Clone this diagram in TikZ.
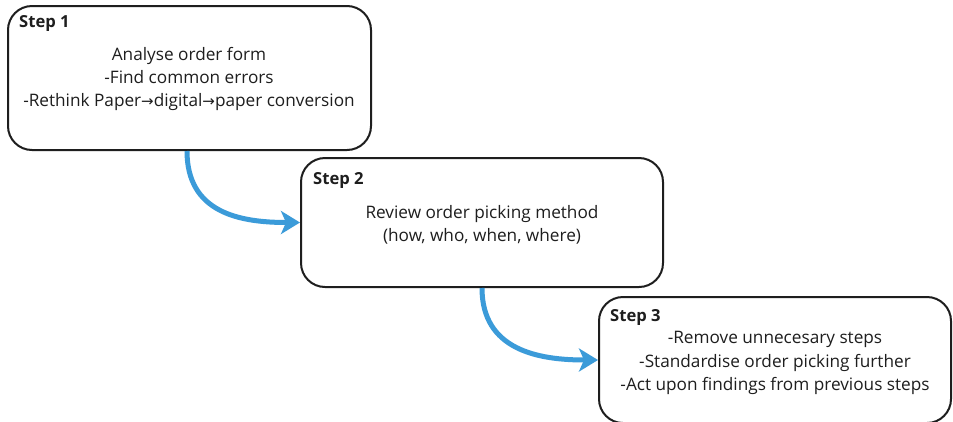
\documentclass[tikz,border=0pt]{standalone}
\usepackage{fontspec}
\setmainfont{Open Sans}
\newfontfamily\arrowfont{DejaVu Sans}
\usetikzlibrary{arrows.meta,calc}
\definecolor{flowblue}{HTML}{3B9BD9}
\definecolor{ink}{HTML}{1E1E1E}
\newcommand{\rarr}{{\arrowfont\fontsize{15}{15}\selectfont →}}
\tikzset{
  stepbox/.style={draw=ink, line width=2pt, rounded corners=24pt, fill=white, inner sep=0pt},
  steptitle/.style={anchor=west, inner sep=0pt, font=\fontsize{16.6}{18}\selectfont\bfseries, text=ink},
  stepbody/.style={align=center, inner sep=0pt, font=\fontsize{17.2}{23.3}\selectfont, text=ink},
  flow/.style={draw=flowblue, line width=5pt, -{Stealth[length=19pt,width=23pt,inset=5pt]}}
}
\begin{document}
\begin{tikzpicture}[x=1pt,y=-1pt]
  \useasboundingbox (0,0) rectangle (953,421);
  \clip (0,0) rectangle (953,421);
  \fill[white] (0,0) rectangle (953,421);

  % the three step boxes
  \node[stepbox, minimum width=363pt, minimum height=144pt] (s1) at (189.5,78) {};
  \node[stepbox, minimum width=362pt, minimum height=129pt] (s2) at (482,222.5) {};
  \node[stepbox, minimum width=352pt, minimum height=126pt] (s3) at (775,360) {};

  % titles
  \node[steptitle] (t1) at (19,23) {Step 1};
  \node[steptitle] (t2) at (313,180) {Step 2};
  \node[steptitle] (t3) at (610,317) {Step 3};

  % descriptions
  \node[stepbody] (b1) at (189,79) {Analyse order form\\-Find common errors\\-Rethink Paper\rarr digital\rarr paper conversion};
  \node[stepbody] (b2) at (482,225) {Review order picking method\\(how, who, when, where)};
  \node[stepbody] (b3) at (775,363) {-Remove unnecesary steps\\-Standardise order picking further\\-Act upon findings from previous steps};

  % connectors
  \coordinate (a1) at ($(s1.south west)+(180,0)$);
  \coordinate (a2) at ($(s2.south west)+(182,0)$);
  \draw[flow] (a1) .. controls ($(a1)+(0,62)$) and ($(s2.west)+(-60,0)$) .. (s2.west);
  \draw[flow] (a2) .. controls ($(a2)+(0,62)$) and ($(s3.west)+(-60,0)$) .. (s3.west);
\end{tikzpicture}
\end{document}
